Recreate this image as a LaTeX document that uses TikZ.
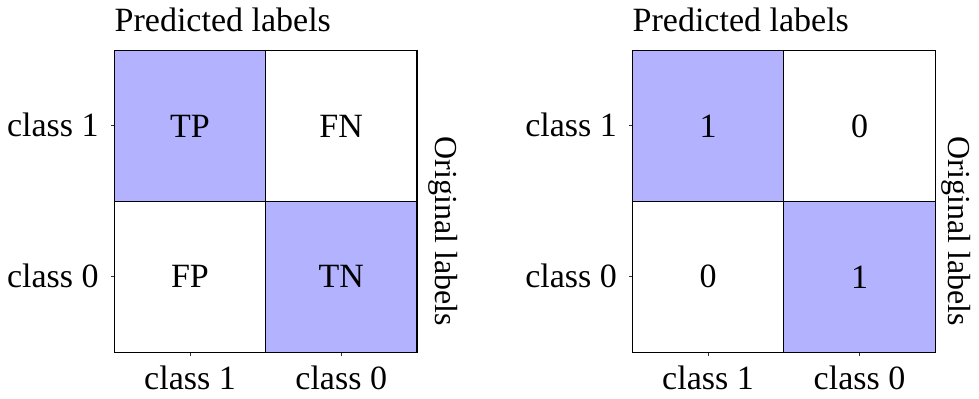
\documentclass[tikz,border=0pt]{standalone}
\usepackage{fontspec}
\setmainfont{Liberation Serif}
\tikzset{
  lbl/.style={inner sep=0pt, font=\fontsize{17}{20}\selectfont},
  vlbl/.style={inner sep=0pt, font=\fontsize{16}{19}\selectfont, anchor=base west, rotate=-90},
  cell/.style={draw=black, line width=0.6pt, minimum width=75.7pt, minimum height=75.5pt, inner sep=0pt, anchor=center, font=\fontsize{17}{20}\selectfont},
  hit/.style={cell, fill=blue!30},
  miss/.style={cell, fill=white},
  tick/.style={draw=black!80, line width=0.5pt}
}
\begin{document}
\begin{tikzpicture}[x=0.5pt,y=-0.5pt]
\useasboundingbox (0,0) rectangle (979,399);
% ---------- left panel ----------
\node[hit]  (L11) at (190.0,126.0) {TP};
\node[miss] (L12) at (341.2,126.0) {FN};
\node[miss] (L21) at (190.0,276.8) {FP};
\node[hit]  (L22) at (341.2,276.8) {TN};
\draw[tick] (L11.west) -- ++(-3,0);
\draw[tick] (L21.west) -- ++(-3,0);
\draw[tick] (L21.south) -- ++(0,3);
\draw[tick] (L22.south) -- ++(0,3);
\node[lbl, anchor=base east] (Ly1) at (99,136.7) {class 1};
\node[lbl, anchor=base east] (Ly0) at (99,287.7) {class 0};
\node[lbl, anchor=base] (Lx1) at (190.0,389.3) {class 1};
\node[lbl, anchor=base] (Lx0) at (341.2,389.3) {class 0};
\node[lbl, anchor=base west] (Lpred) at (114.3,31.7) {Predicted labels};
\node[vlbl] (Lorig) at (435.7,136.5) {Original labels};
% ---------- right panel ----------
\node[hit]  (R11) at (708.0,126.0) {1};
\node[miss] (R12) at (859.5,126.0) {0};
\node[miss] (R21) at (708.0,276.8) {0};
\node[hit]  (R22) at (859.5,276.8) {1};
\draw[tick] (R11.west) -- ++(-3,0);
\draw[tick] (R21.west) -- ++(-3,0);
\draw[tick] (R21.south) -- ++(0,3);
\draw[tick] (R22.south) -- ++(0,3);
\node[lbl, anchor=base east] (Ry1) at (617.3,136.7) {class 1};
\node[lbl, anchor=base east] (Ry0) at (617.3,287.7) {class 0};
\node[lbl, anchor=base] (Rx1) at (708.0,389.3) {class 1};
\node[lbl, anchor=base] (Rx0) at (859.5,389.3) {class 0};
\node[lbl, anchor=base west] (Rpred) at (632.3,31.7) {Predicted labels};
\node[vlbl] (Rorig) at (948.0,136.5) {Original labels};
\end{tikzpicture}
\end{document}
